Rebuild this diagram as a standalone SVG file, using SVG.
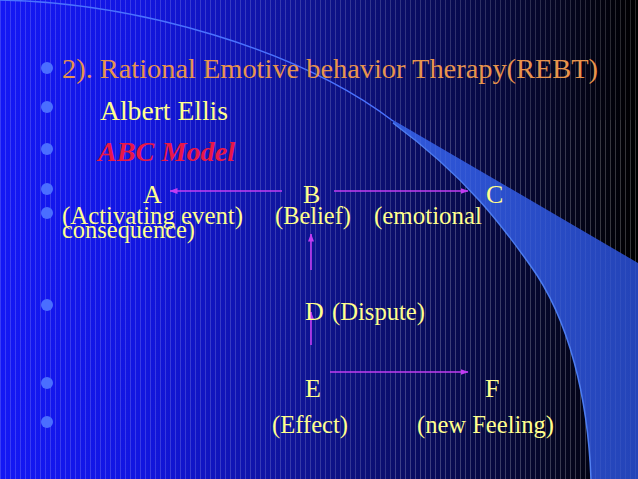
<svg xmlns="http://www.w3.org/2000/svg" width="638" height="479" viewBox="0 0 638 479">
  <defs>
    <linearGradient id="bg" x1="0" y1="0" x2="1" y2="0">
      <stop offset="0" stop-color="#1418f4"/>
      <stop offset="0.22" stop-color="#1216e0"/>
      <stop offset="0.47" stop-color="#0f1496"/>
      <stop offset="0.7" stop-color="#080b55"/>
      <stop offset="0.88" stop-color="#050622"/>
      <stop offset="1" stop-color="#000000"/>
    </linearGradient>
    <linearGradient id="band" x1="0" y1="0" x2="1" y2="0">
      <stop offset="0" stop-color="#3058dc"/>
      <stop offset="1" stop-color="#2444b8"/>
    </linearGradient>
    <pattern id="stripes" x="0" y="0" width="5" height="10" patternUnits="userSpaceOnUse">
      <rect x="0" y="0" width="1" height="10" fill="#ffffff" fill-opacity="0.16"/>
    </pattern>
    <marker id="arr" viewBox="0 0 8 6" markerWidth="8" markerHeight="6" refX="7.5" refY="3" orient="auto" markerUnits="userSpaceOnUse">
      <path d="M0,0 L8,3 L0,6 z" fill="#c23cf2"/>
    </marker>
    <style>
      .t { font-family: "Liberation Serif", "Times New Roman", serif; }
      .y { fill: #ffff8c; }
      .sub { font-size: 24.5px; }
      .let { font-size: 26px; }
      .bul { fill: #4a6eff; }
      .conn { stroke: #c23cf2; stroke-width: 1.6; fill: none; marker-end: url(#arr); }
    </style>
  </defs>

  <!-- background -->
  <rect x="0" y="0" width="638" height="479" fill="url(#bg)"/>
  <rect x="0" y="0" width="638" height="479" fill="url(#stripes)"/>
  <!-- swoosh -->
  <path d="M0,0 C140,3 300,50 393,121" fill="none" stroke="#4a72ff" stroke-width="1.5"/>
  <path d="M393,120 L638,263 L638,479 L591,479 C588,400 570,320 530,265 C505,230 470,180 393,123 Z" fill="url(#band)"/>
  <path d="M591,479 C588,400 570,320 530,265 C505,230 470,180 393,123" fill="none" stroke="#4a7af0" stroke-width="1.5"/>
  <rect x="393" y="120" width="245" height="359" fill="url(#stripes)" opacity="0.35" clip-path="none"/>

  <!-- bullets -->
  <g id="bullets">
    <circle class="bul" cx="47" cy="68" r="6"/>
    <circle class="bul" cx="47" cy="107" r="6"/>
    <circle class="bul" cx="47" cy="149" r="6"/>
    <circle class="bul" cx="47" cy="189" r="6"/>
    <circle class="bul" cx="47" cy="213" r="6"/>
    <circle class="bul" cx="47" cy="305" r="6"/>
    <circle class="bul" cx="47" cy="383" r="6"/>
    <circle class="bul" cx="47" cy="422" r="6"/>
  </g>

  <g id="title">
    <text class="t" x="62" y="78" font-size="28" fill="#e8944c" textLength="536" lengthAdjust="spacingAndGlyphs">2). Rational Emotive behavior Therapy(REBT)</text>
  </g>
  <g id="author">
    <text class="t y" x="100" y="120" font-size="27" textLength="128" lengthAdjust="spacingAndGlyphs">Albert Ellis</text>
  </g>
  <g id="model">
    <text class="t" x="98" y="161" font-size="28" font-weight="bold" font-style="italic" fill="#e81848" textLength="137" lengthAdjust="spacingAndGlyphs">ABC Model</text>
  </g>

  <!-- connectors -->
  <g id="connectors">
    <line class="conn" x1="282" y1="191" x2="170" y2="191"/>
    <line class="conn" x1="334" y1="191" x2="468" y2="191"/>
    <line class="conn" x1="311" y1="270" x2="311" y2="234"/>
    <line class="conn" x1="311" y1="345" x2="311" y2="312"/>
    <line class="conn" x1="330" y1="372" x2="468" y2="372"/>
  </g>

  <g id="node-A">
    <text class="t y let" x="143" y="203">A</text>
    <text class="t y sub" x="62" y="224" textLength="181" lengthAdjust="spacingAndGlyphs">(Activating event)</text>
  </g>
  <g id="node-B">
    <text class="t y let" x="303" y="203">B</text>
    <text class="t y sub" x="275" y="224" textLength="76" lengthAdjust="spacingAndGlyphs">(Belief)</text>
  </g>
  <g id="node-C">
    <text class="t y let" x="486" y="203">C</text>
    <text class="t y sub" x="374" y="224" textLength="108" lengthAdjust="spacingAndGlyphs">(emotional</text>
    <text class="t y sub" x="62" y="238" textLength="133" lengthAdjust="spacingAndGlyphs">consequence)</text>
  </g>
  <g id="node-D">
    <text class="t y let" x="305" y="320">D</text>
    <text class="t y sub" x="332" y="320" textLength="93" lengthAdjust="spacingAndGlyphs">(Dispute)</text>
  </g>
  <g id="node-E">
    <text class="t y let" x="305" y="397">E</text>
    <text class="t y sub" x="272" y="433" textLength="76" lengthAdjust="spacingAndGlyphs">(Effect)</text>
  </g>
  <g id="node-F">
    <text class="t y let" x="485" y="397">F</text>
    <text class="t y sub" x="417" y="433" textLength="137" lengthAdjust="spacingAndGlyphs">(new Feeling)</text>
  </g>
</svg>
